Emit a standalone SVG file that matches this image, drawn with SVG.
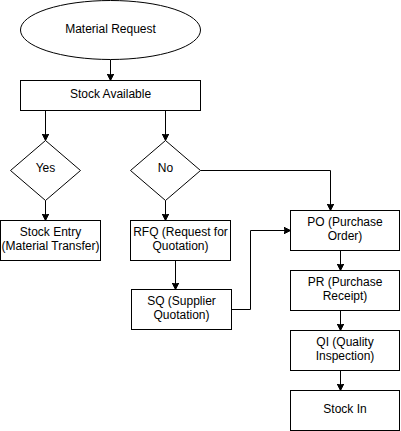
<svg xmlns="http://www.w3.org/2000/svg" width="401" height="431" viewBox="0 0 401 431">
<style>
.s{fill:#fff;stroke:#000;stroke-width:1}
.t{font-family:"Liberation Sans",Arial,sans-serif;font-size:12px;fill:#000;text-anchor:middle}
.c{fill:none;stroke:#000;stroke-width:1}
</style>
<defs>
<marker id="a" markerUnits="userSpaceOnUse" markerWidth="10" markerHeight="10" refX="7" refY="4" orient="auto">
<path d="M0,0.5 L7,4 L0,7.5 L1.75,4 Z" fill="#000" stroke="#000" stroke-width="1"/>
</marker>
</defs>
<rect width="401" height="431" fill="#fff"/>
<g id="connectors">
<path class="c" d="M110.5,59.5 V80.5" marker-end="url(#a)"/>
<path class="c" d="M45.5,110.5 V140.5" marker-end="url(#a)"/>
<path class="c" d="M165.5,110.5 V140.5" marker-end="url(#a)"/>
<path class="c" d="M45.5,200.5 V220.5" marker-end="url(#a)"/>
<path class="c" d="M165.5,200.5 V220.5" marker-end="url(#a)"/>
<path class="c" d="M200.5,170.5 H330.5 V210.5" marker-end="url(#a)"/>
<path class="c" d="M175.5,260.5 V289.5" marker-end="url(#a)"/>
<path class="c" d="M231.5,309.5 H250.5 V230.5 H290.5" marker-end="url(#a)"/>
<path class="c" d="M340.5,250.5 V270.5" marker-end="url(#a)"/>
<path class="c" d="M340.5,310.5 V330.5" marker-end="url(#a)"/>
<path class="c" d="M340.5,370.5 V390.5" marker-end="url(#a)"/>
</g>
<g id="material-request">
<ellipse class="s" cx="110.5" cy="30" rx="90" ry="29.5"/>
<text class="t" x="110.5" y="32.5">Material Request</text>
</g>
<g id="stock-available">
<rect class="s" x="20.5" y="80.5" width="180" height="30"/>
<text class="t" x="110.5" y="98">Stock Available</text>
</g>
<g id="yes">
<polygon class="s" points="45.5,140.5 80.5,170.5 45.5,200.5 10.5,170.5"/>
<text class="t" x="45.5" y="172">Yes</text>
</g>
<g id="no">
<polygon class="s" points="165.5,140.5 200.5,170.5 165.5,200.5 130.5,170.5"/>
<text class="t" x="165.5" y="172">No</text>
</g>
<g id="stock-entry">
<rect class="s" x="0.5" y="220.5" width="100" height="40"/>
<text class="t" x="50.5" y="235.5">Stock Entry</text>
<text class="t" x="50.5" y="249.5">(Material Transfer)</text>
</g>
<g id="rfq">
<rect class="s" x="130.5" y="220.5" width="100" height="40"/>
<text class="t" x="180.5" y="235.5">RFQ (Request for</text>
<text class="t" x="180.5" y="249.5">Quotation)</text>
</g>
<g id="sq">
<rect class="s" x="131.5" y="289.5" width="100" height="40"/>
<text class="t" x="181.5" y="304.5">SQ (Supplier</text>
<text class="t" x="181.5" y="318.5">Quotation)</text>
</g>
<g id="po">
<rect class="s" x="290.5" y="210.5" width="109" height="40"/>
<text class="t" x="345" y="225.5">PO (Purchase</text>
<text class="t" x="345" y="239.5">Order)</text>
</g>
<g id="pr">
<rect class="s" x="290.5" y="270.5" width="109" height="40"/>
<text class="t" x="345" y="285.5">PR (Purchase</text>
<text class="t" x="345" y="299.5">Receipt)</text>
</g>
<g id="qi">
<rect class="s" x="290.5" y="330.5" width="109" height="40"/>
<text class="t" x="345" y="345.5">QI (Quality</text>
<text class="t" x="345" y="359.5">Inspection)</text>
</g>
<g id="stock-in">
<rect class="s" x="290.5" y="390.5" width="109" height="40"/>
<text class="t" x="345" y="413">Stock In</text>
</g>
</svg>
